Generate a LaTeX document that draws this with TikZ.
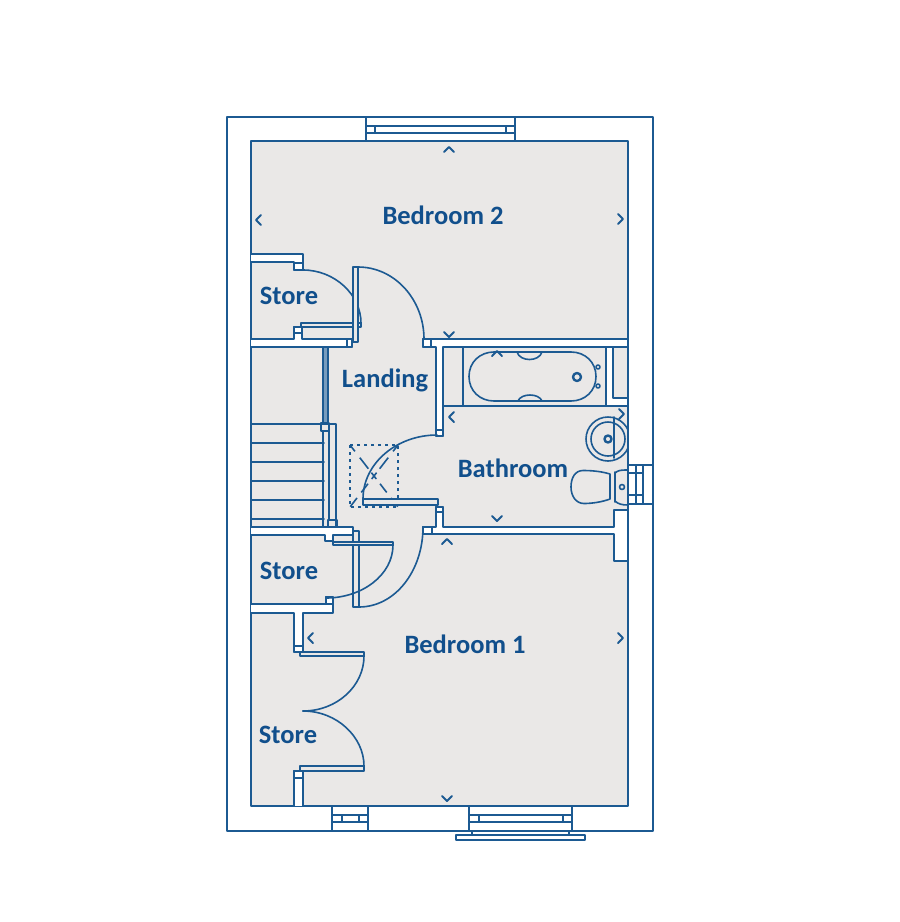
\documentclass[tikz,border=0pt]{standalone}
\usepackage{fontspec}
\setmainfont{Carlito}
\definecolor{wallblue}{HTML}{1C5A92}
\definecolor{textblue}{HTML}{114F8C}
\definecolor{floorgrey}{HTML}{EAE8E7}
\tikzset{
	wall/.style={draw=wallblue, fill=white, line width=1.7pt},
	fitting/.style={draw=wallblue, line width=1.6pt},
	leaf/.style={draw=wallblue, fill=floorgrey, line width=1.6pt},
	swing/.style={draw=wallblue, line width=1.6pt},
	room/.style={text=textblue, font=\fontsize{26.5}{26.5}\selectfont\bfseries},
	chevron/.style={draw=wallblue, line width=2.1pt},
	hatchline/.style={draw=wallblue, line width=1.6pt, line cap=butt, dash pattern=on 8pt off 8pt on 14pt off 5pt on 8pt off 6pt on 11pt off 7pt on 11pt off 8pt}
}
\begin{document}
\begin{tikzpicture}[x=1pt, y=-1pt, join=round, cap=round]
	\useasboundingbox (0,0) rectangle (900,922);
	% shell and floor
	\draw[wall] (227,117) rectangle (653,831);
	\draw[draw=wallblue, fill=floorgrey, line width=1.7pt] (251,141) rectangle (628,806);
	% partitions
	\draw[wall] (251,254)--(303,254)--(303,270)--(294,270)--(294,262)--(251,262);
	\draw[wall] (251,339)--(294,339)--(294,327)--(302,327)--(302,339)--(352,339)--(352,347)--(251,347);
	\draw[wall] (423,347)--(423,339)--(628,339)--(628,347)--(443,347)--(443,436)--(436,436)--(436,347)--cycle;
	\draw[wall] (436,507)--(443,507)--(443,527)--(614,527)--(614,510)--(628,510)--(628,561)--(614,561)--(614,534)--(423,534)--(423,527)--(436,527)--cycle;
	\draw[wall] (251,527)--(353,527)--(353,535)--(333,535)--(333,541)--(325,541)--(325,535)--(251,535);
	\draw[wall] (251,604)--(326,604)--(326,597)--(333,597)--(333,613)--(303,613)--(303,652)--(294,652)--(294,613)--(251,613);
	\draw[wall] (294,806)--(294,771)--(303,771)--(303,806);
	% jambs
	\foreach \jambx/\jamby/\jambw/\jambh in {294/263/9/7, 294/327/8/6, 347/339/5/8, 423/339/8/8, 436/430/7/6, 436/507/7/5, 423/527/9/7, 326/597/7/7, 294/646/9/6, 294/771/9/7}
	\draw[fitting] (\jambx,\jamby) rectangle +(\jambw,\jambh);
	% stairs
	\foreach \stepy in {424,443,462,481,500,519}
	\draw[fitting] (251,\stepy)--(324,\stepy);
	\draw[fitting] (321,424)--(336,424)--(336,527);
	\draw[fitting] (323,431)--(323,527);
	\draw[fitting] (329,431)--(329,520);
	\draw[fitting] (321,423) rectangle (329,431);
	\draw[fitting] (328,520) rectangle (337,527);
	\draw[draw=wallblue, fill=wallblue!60, line width=1.2pt] (323,347) rectangle (328,423);
	% hatch
	\draw[fitting, line cap=butt, dash pattern=on 3pt off 4pt] (350,445) rectangle (398,507);
	\draw[hatchline] (350,445)--(398,507);
	\draw[hatchline] (398,445)--(350,507);
	% doors
	\draw[leaf] (301,323) rectangle (361,327);
	\draw[swing] (303,270) .. controls (335,270) and (361,295) .. (361,323);
	\draw[leaf] (353,267) rectangle (358,342);
	\draw[swing] (358,267) .. controls (395,267) and (424,300) .. (424,339);
	\draw[leaf] (363,499) rectangle (438,505);
	\draw[swing] (437,435) .. controls (397,435) and (363,463) .. (363,499);
	\draw[leaf] (353,531) rectangle (359,607);
	\draw[swing] (423,527) .. controls (423,571) and (395,607) .. (359,607);
	\draw[leaf] (333,542) rectangle (393,545);
	\draw[swing] (393,545) .. controls (393,575) and (362,598) .. (326,598);
	\draw[leaf] (300,652) rectangle (364,656);
	\draw[swing] (364,656) .. controls (364,686) and (337,711) .. (303,711);
	\draw[swing] (303,711) .. controls (337,711) and (364,737) .. (364,766);
	\draw[leaf] (300,766) rectangle (364,771);
	% bath
	\draw[fitting] (463,347)--(463,406);
	\draw[wall] (606,347)--(613,347)--(613,398)--(628,398)--(628,406)--(606,406)--cycle;
	\draw[wall] (443,406)--(628,406);
	\draw[fitting] (469,376.5) .. controls (469,362) and (480,352) .. (494,352)--(571,352) .. controls (585,352) and (596,362) .. (596,376.5) .. controls (596,391) and (585,401) .. (571,401)--(494,401) .. controls (480,401) and (469,391) .. (469,376.5)--cycle;
	\draw[fitting] (517,352) .. controls (520,362) and (539,362) .. (542,352);
	\draw[fitting] (518,401) .. controls (521,393) and (539,393) .. (542,401);
	\draw[fitting, line width=2.4pt] (577,377) circle (4);
	\foreach \tapy in {367,386}
	\draw[fitting] (598,\tapy) circle (2);
	% basin
	\begin{scope}
		\clip (580,410) rectangle (628,470);
		\draw[fitting] (608,439) circle (22);
		\draw[fitting] (608,439) circle (17);
	\end{scope}
	\draw[fitting] (614,417)--(614,458);
	\draw[fitting, line width=2.4pt] (608,439) circle (3.5);
	% toilet
	\draw[fitting] (610,474) .. controls (600,471) and (590,470.5) .. (583,470.5) .. controls (575,470.5) and (571,478) .. (571,487) .. controls (571,496) and (576,503.5) .. (584,503.5) .. controls (592,503.5) and (602,502) .. (610,499)--cycle;
	\draw[fitting] (615,472)--(615,502);
	\draw[fitting] (615,473) .. controls (618,470) and (622,470) .. (628,470);
	\draw[fitting] (615,501) .. controls (618,504) and (622,505) .. (628,505);
	\draw[fitting] (622,487) circle (2.5);
	% windows
	\draw[wall] (628,465) rectangle (653,504);
	\draw[fitting] (636,465)--(636,504);
	\draw[fitting] (643,465)--(643,504);
	\draw[fitting] (628,473)--(643,473);
	\draw[fitting] (628,495)--(643,495);
	\draw[wall] (366,117) rectangle (515,141);
	\draw[fitting] (366,126)--(515,126);
	\draw[fitting] (366,133)--(515,133);
	\draw[fitting] (375,126)--(375,133);
	\draw[fitting] (506,126)--(506,133);
	\draw[wall] (332,806) rectangle (368,831);
	\draw[fitting] (332,815)--(368,815);
	\draw[fitting] (332,822)--(368,822);
	\draw[fitting] (342,815)--(342,822);
	\draw[fitting] (359,815)--(359,822);
	\draw[wall] (469,806) rectangle (572,831);
	\draw[fitting] (469,815)--(572,815);
	\draw[fitting] (469,822)--(572,822);
	\draw[fitting] (479,815)--(479,822);
	\draw[fitting] (563,815)--(563,822);
	\draw[fitting] (472,831)--(472,835);
	\draw[fitting] (569,831)--(569,835);
	\draw[fitting] (456,835) rectangle (585,840);
	% dimension marks
	\foreach \chevx/\chevy/\chevang in {449/149/0, 258/220/90, 621/219/-90, 449/335/180, 497/353/0, 451/417/90, 622/414/-90, 497/519/180, 447/541/0, 310/638/90, 621/638/-90, 447/799/180}
	\draw[chevron, shift={(\chevx,\chevy)}, rotate=\chevang] (-5,3)--(0,-2)--(5,3);
	% labels
	\node[room] (bedroomtwo) at (443,215) {Bedroom 2};
	\node[room] (storetop) at (289,296) {Store};
	\node[room] (landing) at (385,380) {Landing};
	\node[room] (bathroom) at (513,468) {Bathroom};
	\node[room] (storemid) at (289,571) {Store};
	\node[room] (bedroomone) at (465,644) {Bedroom 1};
	\node[room] (storelow) at (288,735) {Store};
\end{tikzpicture}
\end{document}
